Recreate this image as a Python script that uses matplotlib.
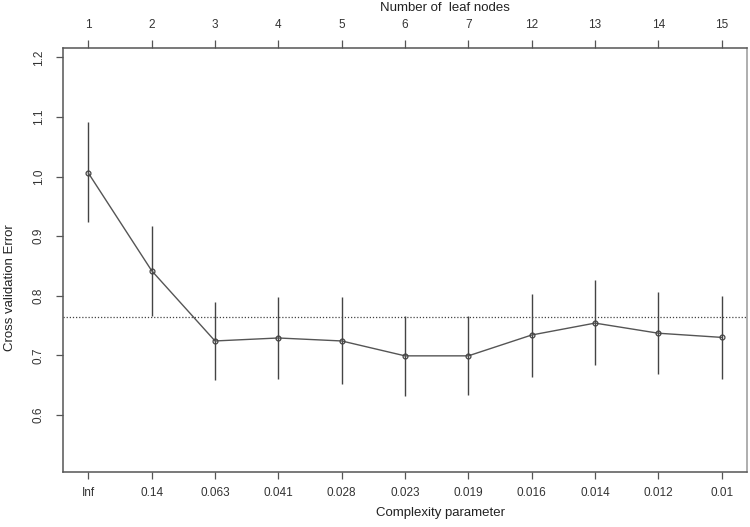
import numpy as np
import matplotlib.pyplot as plt

plt.rcParams["font.family"] = ["Liberation Sans", "DejaVu Sans"]

# values
cp_labels = ["Inf", "0.14", "0.063", "0.041", "0.028", "0.023",
             "0.019", "0.016", "0.014", "0.012", "0.01"]
leaf_nodes = ["1", "2", "3", "4", "5", "6", "7", "12", "13", "14", "15"]
xerror = [1.006, 0.842, 0.724, 0.729, 0.724, 0.699, 0.699, 0.734, 0.754, 0.737, 0.730]
err_upper = [1.091, 0.917, 0.790, 0.798, 0.798, 0.766, 0.766, 0.803, 0.826, 0.807, 0.799]
err_lower = [0.923, 0.766, 0.659, 0.660, 0.651, 0.631, 0.634, 0.663, 0.683, 0.668, 0.660]
threshold = 0.765

x = np.arange(1, len(xerror) + 1)
grey = "#555555"

fig = plt.figure(figsize=(7.5, 5.27), dpi=100)
ax = fig.add_axes([0.084, 0.1044, 0.912, 0.8046])

# error bars
ax.vlines(x, err_lower, err_upper, color="#444444", linewidth=1.0)
# mean curve
ax.plot(x, xerror, color=grey, linewidth=1.0, marker="o", markersize=3.5,
        markerfacecolor="none", markeredgecolor="#444444", markeredgewidth=0.9)
# 1-SE line
ax.axhline(threshold, color="#444444", linestyle=(0, (1, 1.5)), linewidth=0.9)

ax.set_xlim(0.6, 11.4)
ax.set_ylim(0.504, 1.216)
ax.set_xticks(x)
ax.set_xticklabels(cp_labels)
ax.set_yticks([0.6, 0.7, 0.8, 0.9, 1.0, 1.1, 1.2])
ax.set_yticklabels(["0.6", "0.7", "0.8", "0.9", "1.0", "1.1", "1.2"],
                   rotation=90, va="center")

for s in ax.spines.values():
    s.set_color(grey)
    s.set_linewidth(1.1)
ax.spines["right"].set_color("#999999")

ax.tick_params(axis="x", length=5, width=0.9, color=grey, labelsize=8.5,
               pad=6, labelcolor="#333333")
ax.tick_params(axis="y", length=5, width=0.9, color=grey, labelsize=8.5,
               pad=8, labelcolor="#333333")

top = ax.secondary_xaxis("top")
top.set_xticks(x)
top.set_xticklabels(leaf_nodes)
top.tick_params(length=6, width=0.9, color=grey, labelsize=8.5, pad=6,
                labelcolor="#333333")
top.spines["top"].set_visible(False)

fig.text(0.593, 0.985, "Number of  leaf nodes", ha="center", va="center",
         fontsize=9.5, color="#222222")
fig.text(0.587, 0.027, "Complexity parameter", ha="center", va="center",
         fontsize=9.5, color="#222222")
fig.text(0.014, 0.455, "Cross validation Error", ha="center", va="center",
         rotation=90, fontsize=9.5, color="#222222")

plt.savefig("out.png", dpi=100)
